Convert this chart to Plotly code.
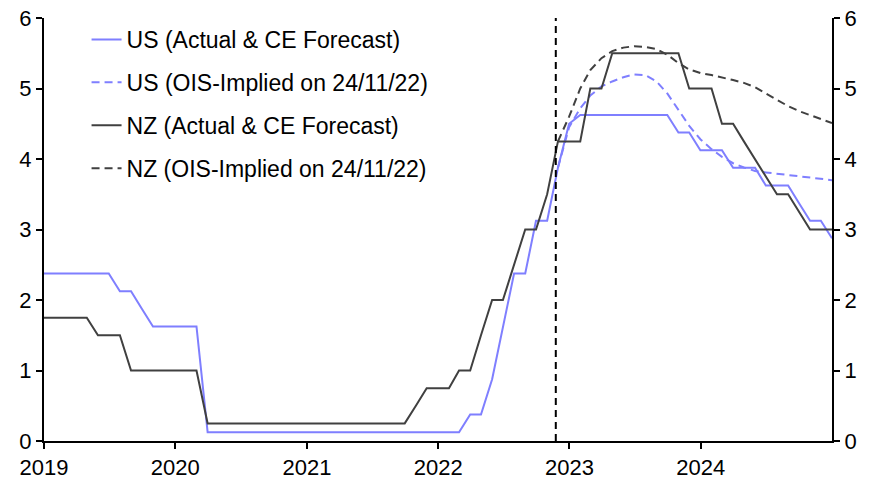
import pandas as pd
import plotly.graph_objects as go

# Month-end dates, Dec 2018 .. Dec 2024
dates = pd.date_range("2018-12-31", "2024-12-31", freq="ME")
ois_dates = pd.date_range("2022-11-30", "2024-12-31", freq="ME")

us_actual = [
    2.375,
    2.375, 2.375, 2.375, 2.375, 2.375, 2.375, 2.125, 2.125, 1.875, 1.625, 1.625, 1.625,
    1.625, 1.625, 0.125, 0.125, 0.125, 0.125, 0.125, 0.125, 0.125, 0.125, 0.125, 0.125,
    0.125, 0.125, 0.125, 0.125, 0.125, 0.125, 0.125, 0.125, 0.125, 0.125, 0.125, 0.125,
    0.125, 0.125, 0.375, 0.375, 0.875, 1.625, 2.375, 2.375, 3.125, 3.125, 3.875, 4.5,
    4.625, 4.625, 4.625, 4.625, 4.625, 4.625, 4.625, 4.625, 4.625, 4.375, 4.375, 4.125,
    4.125, 4.125, 3.875, 3.875, 3.875, 3.625, 3.625, 3.625, 3.375, 3.125, 3.125, 2.875,
]
nz_actual = [
    1.75,
    1.75, 1.75, 1.75, 1.75, 1.5, 1.5, 1.5, 1.0, 1.0, 1.0, 1.0, 1.0,
    1.0, 1.0, 0.25, 0.25, 0.25, 0.25, 0.25, 0.25, 0.25, 0.25, 0.25, 0.25,
    0.25, 0.25, 0.25, 0.25, 0.25, 0.25, 0.25, 0.25, 0.25, 0.5, 0.75, 0.75,
    0.75, 1.0, 1.0, 1.5, 2.0, 2.0, 2.5, 3.0, 3.0, 3.5, 4.25, 4.25,
    4.25, 5.0, 5.0, 5.5, 5.5, 5.5, 5.5, 5.5, 5.5, 5.5, 5.0, 5.0,
    5.0, 4.5, 4.5, 4.25, 4.0, 3.75, 3.5, 3.5, 3.25, 3.0, 3.0, 3.0,
]
us_ois = [
    3.875, 4.45,
    4.72, 4.90, 5.03, 5.10, 5.16, 5.20, 5.19, 5.10, 4.93, 4.70, 4.47, 4.28,
    4.14, 4.03, 3.94, 3.88, 3.83, 3.81, 3.79, 3.77, 3.75, 3.73, 3.72, 3.70,
]
nz_ois = [
    4.25, 4.6,
    5.0, 5.26, 5.43, 5.53, 5.58, 5.60, 5.59, 5.56, 5.48, 5.36, 5.27, 5.22,
    5.19, 5.16, 5.12, 5.08, 5.02, 4.93, 4.84, 4.75, 4.68, 4.62, 4.57, 4.51,
]
vline_date = "2022-11-24"
year_ticks = ["2019-01-01", "2020-01-01", "2021-01-01", "2022-01-01", "2023-01-01", "2024-01-01"]
year_labels = ["2019", "2020", "2021", "2022", "2023", "2024"]
y_ticks = [0, 1, 2, 3, 4, 5, 6]

US_COL = "#7f7fff"
NZ_COL = "#404040"
FONT = "Liberation Sans, Arial, sans-serif"

fig = go.Figure()
fig.add_trace(go.Scatter(x=dates, y=us_actual, mode="lines", name="US (Actual & CE Forecast)",
                         line=dict(color=US_COL, width=2), legendgroup="a"))
fig.add_trace(go.Scatter(x=ois_dates, y=us_ois, mode="lines", name="US (OIS-Implied on 24/11/22)",
                         line=dict(color=US_COL, width=2, dash="8px,5px"), legendgroup="b"))
fig.add_trace(go.Scatter(x=dates, y=nz_actual, mode="lines", name="NZ (Actual & CE Forecast)",
                         line=dict(color=NZ_COL, width=2), legendgroup="c"))
fig.add_trace(go.Scatter(x=ois_dates, y=nz_ois, mode="lines", name="NZ (OIS-Implied on 24/11/22)",
                         line=dict(color=NZ_COL, width=2, dash="8px,5px"), legendgroup="d"))
# invisible trace to activate right axis
fig.add_trace(go.Scatter(x=[dates[0]], y=[0], yaxis="y2", mode="lines",
                         line=dict(width=0), showlegend=False, hoverinfo="skip"))

fig.add_shape(type="line", x0=vline_date, x1=vline_date, y0=0, y1=1, yref="paper", xref="x",
              line=dict(color="black", width=2, dash="7px,5px"))

fig.update_layout(
    width=876, height=485,
    margin=dict(l=44, r=44, t=18, b=44),
    paper_bgcolor="white", plot_bgcolor="white",
    font=dict(family=FONT, size=22, color="black"),
    showlegend=True,
    legend=dict(x=0.054, y=1.0, xanchor="left", yanchor="top",
                font=dict(size=23, family=FONT, color="black"),
                bgcolor="rgba(0,0,0,0)", tracegroupgap=10, traceorder="grouped"),
    xaxis=dict(type="date", range=["2019-01-01", "2024-12-31"], automargin=False,
               tickmode="array", tickvals=year_ticks, ticktext=year_labels,
               ticks="outside", ticklen=6, tickwidth=2, tickcolor="black",
               showline=True, linecolor="black", linewidth=2,
               showgrid=False, zeroline=False),
    yaxis=dict(range=[0, 6], tickvals=y_ticks, ticks="outside", ticklen=6, tickwidth=2,
               tickcolor="black", showline=True, linecolor="black", linewidth=2,
               showgrid=False, zeroline=False, automargin=False),
    yaxis2=dict(range=[0, 6], tickvals=y_ticks, ticks="outside", ticklen=6, tickwidth=2,
                tickcolor="black", showline=True, linecolor="black", linewidth=2,
                showgrid=False, zeroline=False, overlaying="y", side="right", anchor="x",
                automargin=False),
)

# remove the browser's default 8px page margin so the figure sits at the window origin
fig.write_html("out.html", config={"displayModeBar": False},
               post_script="document.body.style.margin='0px';")
